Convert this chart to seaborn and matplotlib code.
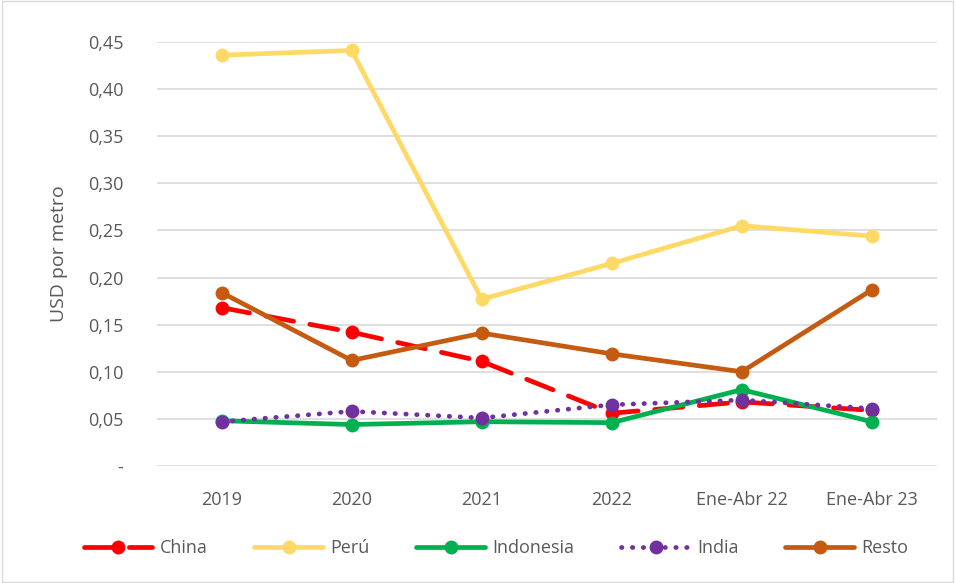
import pandas as pd
import matplotlib.pyplot as plt
import seaborn as sns
from matplotlib.ticker import FuncFormatter, MultipleLocator

# Data (USD por metro)
periods = ['2019', '2020', '2021', '2022', 'Ene-Abr 22', 'Ene-Abr 23']
china = [0.168, 0.142, 0.111, 0.056, 0.068, 0.059]
peru = [0.436, 0.441, 0.177, 0.215, 0.255, 0.244]
indonesia = [0.048, 0.044, 0.047, 0.046, 0.081, 0.047]
india = [0.047, 0.058, 0.051, 0.065, 0.070, 0.061]
resto = [0.184, 0.112, 0.141, 0.119, 0.100, 0.187]

series = {'China': china, 'Perú': peru, 'Indonesia': indonesia, 'India': india, 'Resto': resto}
colors = {'China': '#FF0000', 'Perú': '#FFD966', 'Indonesia': '#00B050',
          'India': '#7030A0', 'Resto': '#C55A11'}

sns.set_style('white')
plt.rcParams['font.family'] = ['Open Sans', 'DejaVu Sans']

fig = plt.figure(figsize=(9.55, 5.83), dpi=100)
ax = fig.add_axes([0.164, 0.2007, 0.817, 0.7273])

for name, vals in series.items():
    df = pd.DataFrame({'periodo': periods, 'valor': vals})
    kw = dict(color=colors[name], lw=3.4, marker='o', markersize=10,
              markeredgewidth=0, label=name, solid_capstyle='round')
    line = sns.lineplot(data=df, x='periodo', y='valor', sort=False, ax=ax, **kw).lines[-1]
    if name == 'China':
        line.set_dashes([6, 3.5])
        line.set_dash_capstyle('round')
    elif name == 'India':
        line.set_linestyle((0, (0.1, 2.2)))
        line.set_dash_capstyle('round')

ax.set_xlim(-0.5, 5.5)
ax.set_ylim(0, 0.45)
ax.yaxis.set_major_locator(MultipleLocator(0.05))
ax.yaxis.set_major_formatter(FuncFormatter(lambda v, p: '-' if abs(v) < 1e-9 else f'{v:.2f}'.replace('.', ',')))
ax.grid(axis='y', color='#D9D9D9', lw=1.2)
ax.set_axisbelow(True)
for s in ['top', 'right', 'left', 'bottom']:
    ax.spines[s].set_visible(False)
ax.tick_params(axis='both', length=0, labelsize=13, colors='#595959')
ax.tick_params(axis='y', pad=24)
ax.tick_params(axis='x', pad=18)
ax.set_xlabel('')
ax.set_ylabel('USD por metro', fontsize=14, color='#595959', labelpad=14)

ax.legend(loc='upper center', bbox_to_anchor=(0.435, -0.135), ncol=5, frameon=False,
          fontsize=13, labelcolor='#595959', handlelength=3.8, columnspacing=2.6,
          handletextpad=0.4)

fig.patches.append(plt.Rectangle((0.002, 0.002), 0.996, 0.996, transform=fig.transFigure,
                                 fill=False, edgecolor='#D9D9D9', lw=1))

plt.savefig('out.png', dpi=100)
